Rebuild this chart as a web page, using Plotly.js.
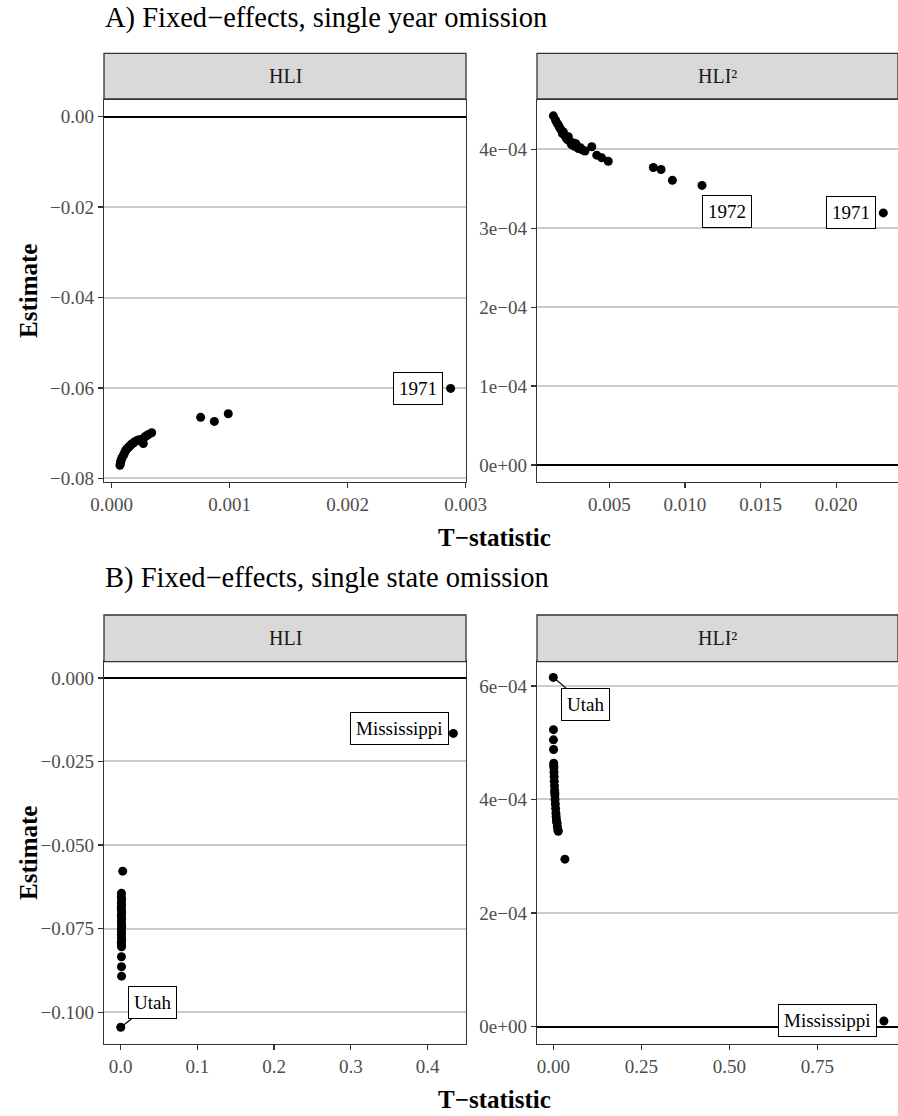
<!DOCTYPE html>
<html>
<head>
<meta charset="utf-8">
<script src="https://cdn.plot.ly/plotly-3.0.1.min.js"></script>
<style>html,body{margin:0;padding:0;background:#fff;}#chart{width:898px;height:1116px;}</style>
</head>
<body>
<div id="chart"></div>
<script>
// ---------- DATA ----------
// Panel A: single year omission (first two rows are 1971, 1972)
const yearLabels = ['1971', '1972'];
const yearTstatHLI = [0.002873, 0.000988, 0.000870, 0.000754, 0.000339, 0.000311, 0.000295, 0.000282, 0.000268, 0.000262,
  0.000245, 0.000226, 0.000210, 0.000197, 0.000182, 0.000169, 0.000158, 0.000149, 0.000135, 0.000127,
  0.000120, 0.000113, 0.000105, 0.000099, 0.000090, 0.000085, 0.000080, 0.000076, 0.000074, 0.000070];
const yearEstHLI = [-0.0601, -0.0657, -0.0674, -0.0665, -0.0699, -0.0703, -0.0706, -0.0708, -0.0723, -0.0716,
  -0.0714, -0.0715, -0.0717, -0.0719, -0.0722, -0.0724, -0.0727, -0.0730, -0.0733, -0.0735,
  -0.0738, -0.0741, -0.0746, -0.0749, -0.0753, -0.0756, -0.0760, -0.0763, -0.0767, -0.0771];
const yearTstatHLI2 = [0.02312, 0.01113, 0.00917, 0.00842, 0.00791, 0.00493, 0.00450, 0.00417, 0.00384, 0.00339,
  0.00320, 0.00310, 0.00295, 0.00280, 0.00270, 0.00262, 0.00250, 0.00240, 0.00229, 0.00225,
  0.00215, 0.00205, 0.00196, 0.00190, 0.00180, 0.00170, 0.00163, 0.00155, 0.00145, 0.00130];
const yearEstHLI2 = [3.195e-4, 3.544e-4, 3.608e-4, 3.745e-4, 3.770e-4, 3.850e-4, 3.893e-4, 3.927e-4, 4.033e-4, 3.980e-4,
  3.995e-4, 4.020e-4, 4.010e-4, 4.070e-4, 4.040e-4, 4.080e-4, 4.060e-4, 4.100e-4, 4.160e-4, 4.120e-4,
  4.140e-4, 4.180e-4, 4.220e-4, 4.200e-4, 4.250e-4, 4.280e-4, 4.310e-4, 4.330e-4, 4.370e-4, 4.425e-4];

// Panel B: single state omission (first two rows are Mississippi, Utah)
const stateLabels = ['Mississippi', 'Utah'];
const stateTstatHLI = [0.4337, 0.0000, 0.0026, 0.0010, 0.0008, 0.0012, 0.0009, 0.0011, 0.0007, 0.0010,
  0.0012, 0.0008, 0.0011, 0.0009, 0.0010, 0.0012, 0.0008, 0.0011, 0.0009, 0.0010,
  0.0012, 0.0008, 0.0010, 0.0011, 0.0009, 0.0010, 0.0011];
const stateEstHLI = [-0.0166, -0.1045, -0.0578, -0.0644, -0.0655, -0.0663, -0.0672, -0.0680, -0.0688, -0.0695,
  -0.0703, -0.0711, -0.0719, -0.0727, -0.0735, -0.0743, -0.0751, -0.0759, -0.0767, -0.0775,
  -0.0783, -0.0791, -0.0799, -0.0804, -0.0834, -0.0864, -0.0892];
const stateTstatHLI2 = [0.939, 0.000, 0.0005, 0.0005, 0.0008, 0.0012, 0.0013, 0.0016, 0.0020, 0.0024,
  0.0028, 0.0033, 0.0038, 0.0043, 0.0045, 0.0050, 0.0058, 0.0066, 0.0074, 0.0082,
  0.0090, 0.0098, 0.0106, 0.0116, 0.0128, 0.0142, 0.0330];
const stateEstHLI2 = [1.0e-5, 6.15e-4, 5.23e-4, 5.05e-4, 4.88e-4, 4.64e-4, 4.60e-4, 4.56e-4, 4.48e-4, 4.40e-4,
  4.32e-4, 4.24e-4, 4.16e-4, 4.12e-4, 4.08e-4, 4.00e-4, 3.92e-4, 3.84e-4, 3.76e-4, 3.70e-4,
  3.64e-4, 3.61e-4, 3.58e-4, 3.52e-4, 3.47e-4, 3.44e-4, 2.95e-4];

// Tick values and labels
const tickA1x = [0, 0.001, 0.002, 0.003], tickA1xText = ['0.000', '0.001', '0.002', '0.003'];
const tickA1y = [0, -0.02, -0.04, -0.06, -0.08], tickA1yText = ['0.00', '\u22120.02', '\u22120.04', '\u22120.06', '\u22120.08'];
const tickA2x = [0.005, 0.010, 0.015, 0.020], tickA2xText = ['0.005', '0.010', '0.015', '0.020'];
const tickA2y = [0, 1e-4, 2e-4, 3e-4, 4e-4], tickA2yText = ['0e+00', '1e\u221204', '2e\u221204', '3e\u221204', '4e\u221204'];
const tickB1x = [0, 0.1, 0.2, 0.3, 0.4], tickB1xText = ['0.0', '0.1', '0.2', '0.3', '0.4'];
const tickB1y = [0, -0.025, -0.05, -0.075, -0.1], tickB1yText = ['0.000', '\u22120.025', '\u22120.050', '\u22120.075', '\u22120.100'];
const tickB2x = [0, 0.25, 0.5, 0.75], tickB2xText = ['0.00', '0.25', '0.50', '0.75'];
const tickB2y = [0, 2e-4, 4e-4, 6e-4], tickB2yText = ['0e+00', '2e\u221204', '4e\u221204', '6e\u221204'];

const stripLabels = ['HLI', 'HLI\u00b2'];
const titleA = 'A) Fixed\u2212effects, single year omission';
const titleB = 'B) Fixed\u2212effects, single state omission';
const xTitle = 'T\u2212statistic';
const yTitle = 'Estimate';

// ---------- STYLE ----------
const FONT = 'Liberation Serif';
const W = 898, H = 1116;
const px = v => v / W;
const py = v => 1 - v / H;

const marker = {color: '#000000', size: 9};
function pts(x, y, xa, ya) {
  return {type: 'scatter', mode: 'markers', x: x, y: y, xaxis: xa, yaxis: ya, marker: marker, hoverinfo: 'skip', cliponaxis: false};
}
const data = [
  pts(yearTstatHLI, yearEstHLI, 'x', 'y'),
  pts(yearTstatHLI2, yearEstHLI2, 'x2', 'y2'),
  pts(stateTstatHLI, stateEstHLI, 'x3', 'y3'),
  pts(stateTstatHLI2, stateEstHLI2, 'x4', 'y4')
];

function axis(domain, range, tv, tt, isY, anchor) {
  return {
    domain: domain, range: range, anchor: anchor, autorange: false,
    tickmode: 'array', tickvals: tv, ticktext: tt,
    showline: true, mirror: true, linecolor: '#333333', linewidth: 1.3,
    ticks: 'outside', ticklen: 5, tickwidth: 1.3, tickcolor: '#333333',
    tickfont: {family: FONT, size: 19, color: '#4d4d4d'},
    showgrid: isY, gridcolor: '#cccccc', gridwidth: 2,
    zeroline: isY, zerolinecolor: '#000000', zerolinewidth: 2,
    fixedrange: true, automargin: false
  };
}
const dxL = [px(104), px(466)], dxR = [px(537), 1];
const dyA = [py(482), py(100)], dyB = [py(1044), py(661.7)];

const layout = {
  width: W, height: H, autosize: false,
  margin: {l: 0, r: 0, t: 0, b: 0, pad: 0},
  paper_bgcolor: '#ffffff', plot_bgcolor: '#ffffff',
  showlegend: false,
  font: {family: FONT, color: '#000000'},
  xaxis: axis(dxL, [-0.0000653, 0.003003], tickA1x, tickA1xText, false, 'y'),
  yaxis: axis(dyA, [-0.0808, 0.0037], tickA1y, tickA1yText, true, 'x'),
  xaxis2: axis(dxR, [0.000218, 0.02409], tickA2x, tickA2xText, false, 'y2'),
  yaxis2: axis(dyA, [-2.15e-5, 4.626e-4], tickA2y, tickA2yText, true, 'x2'),
  xaxis3: axis(dxL, [-0.0218, 0.4502], tickB1x, tickB1xText, false, 'y3'),
  yaxis3: axis(dyB, [-0.1095, 0.00484], tickB1y, tickB1yText, true, 'x3'),
  xaxis4: axis(dxR, [-0.0463, 0.979], tickB2x, tickB2xText, false, 'y4'),
  yaxis4: axis(dyB, [-3.05e-5, 6.426e-4], tickB2y, tickB2yText, true, 'x4'),
  shapes: [],
  annotations: []
};

// facet strips
const strips = [
  {x: dxL, y: [py(99), py(53.3)], t: stripLabels[0]},
  {x: dxR, y: [py(99), py(53.3)], t: stripLabels[1]},
  {x: dxL, y: [py(661.7), py(615)], t: stripLabels[0]},
  {x: dxR, y: [py(661.7), py(615)], t: stripLabels[1]}
];
strips.forEach(s => {
  layout.shapes.push({type: 'rect', xref: 'paper', yref: 'paper', x0: s.x[0], x1: s.x[1], y0: s.y[0], y1: s.y[1],
    fillcolor: '#d9d9d9', line: {color: '#333333', width: 1.3}, layer: 'above'});
  layout.annotations.push({xref: 'paper', yref: 'paper', x: (s.x[0] + s.x[1]) / 2, y: (s.y[0] + s.y[1]) / 2,
    text: s.t, showarrow: false, xanchor: 'center', yanchor: 'middle',
    font: {family: FONT, size: 20, color: '#1a1a1a'}});
});

// titles
[[titleA, 18], [titleB, 578]].forEach(t => {
  layout.annotations.push({xref: 'paper', yref: 'paper', x: px(103), y: py(t[1]), text: t[0], showarrow: false,
    xanchor: 'left', yanchor: 'middle', font: {family: FONT, size: 28.5, color: '#000000'}});
});
[537, 1099].forEach(yv => {
  layout.annotations.push({xref: 'paper', yref: 'paper', x: px(494), y: py(yv), text: '<b>' + xTitle + '</b>', showarrow: false,
    xanchor: 'center', yanchor: 'middle', font: {family: FONT, size: 25, color: '#000000'}});
});
[291, 853].forEach(yv => {
  layout.annotations.push({xref: 'paper', yref: 'paper', x: px(28), y: py(yv), text: '<b>' + yTitle + '</b>', showarrow: false,
    textangle: -90, xanchor: 'center', yanchor: 'middle', font: {family: FONT, size: 25, color: '#000000'}});
});

// point labels
const lab = {font: {family: FONT, size: 19, color: '#000000'}, bgcolor: '#ffffff', bordercolor: '#000000', borderwidth: 1, borderpad: 5};
function label(xa, ya, x, y, text, opts) {
  layout.annotations.push(Object.assign({xref: xa, yref: ya, x: x, y: y, text: text}, lab, opts));
}
// A left: 1971
label('x', 'y', yearTstatHLI[0], yearEstHLI[0], yearLabels[0], {showarrow: false, xanchor: 'right', yanchor: 'middle', xshift: -8});
// A right: 1971, 1972
label('x2', 'y2', yearTstatHLI2[0], yearEstHLI2[0], yearLabels[0], {showarrow: false, xanchor: 'right', yanchor: 'middle', xshift: -7});
label('x2', 'y2', yearTstatHLI2[1], yearEstHLI2[1], yearLabels[1], {showarrow: false, xanchor: 'left', yanchor: 'top', yshift: -10});
// B left: Mississippi, Utah
label('x3', 'y3', stateTstatHLI[0], stateEstHLI[0], stateLabels[0], {showarrow: false, xanchor: 'right', yanchor: 'middle', xshift: -4, yshift: 5});
label('x3', 'y3', stateTstatHLI[1], stateEstHLI[1], stateLabels[1], {showarrow: true, arrowhead: 0, arrowwidth: 1.2, arrowcolor: '#000000', ax: 32, ay: -25, standoff: 3});
// B right: Mississippi, Utah
label('x4', 'y4', stateTstatHLI2[0], stateEstHLI2[0], stateLabels[0], {showarrow: false, xanchor: 'right', yanchor: 'middle', xshift: -7, yshift: 1});
label('x4', 'y4', stateTstatHLI2[1], stateEstHLI2[1], stateLabels[1], {showarrow: true, arrowhead: 0, arrowwidth: 1.2, arrowcolor: '#000000', ax: 32, ay: 27, standoff: 3});

Plotly.newPlot('chart', data, layout, {staticPlot: true, displayModeBar: false});
</script>
</body>
</html>
